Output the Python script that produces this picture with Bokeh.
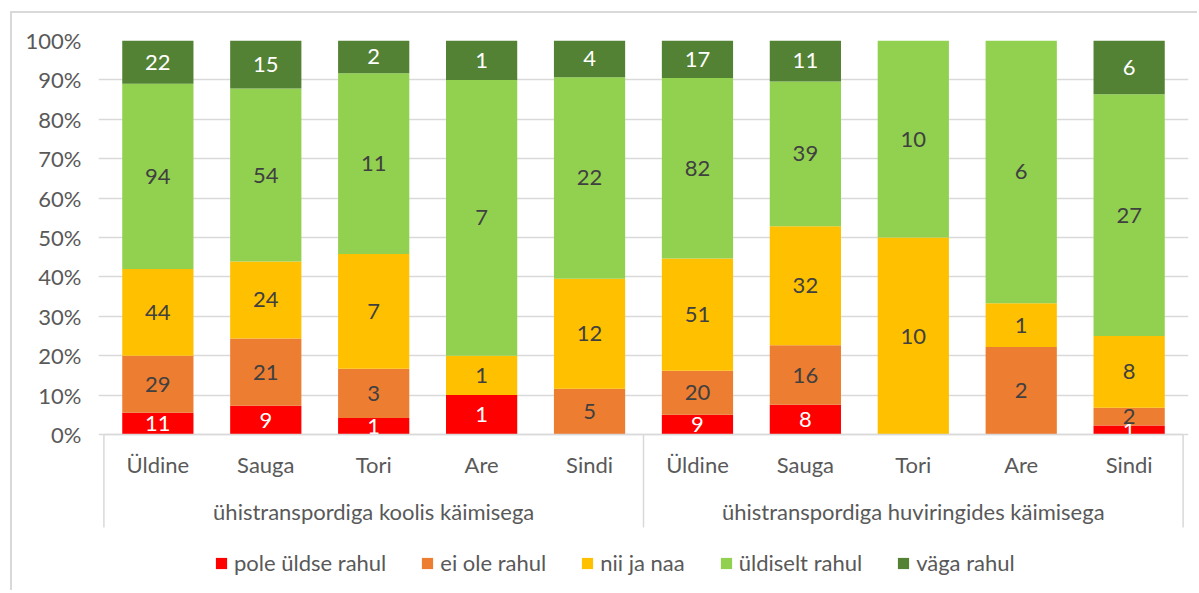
import numpy as np
from bokeh.plotting import figure
from bokeh.models import (ColumnDataSource, FactorRange, Range1d, FixedTicker,
                          NumeralTickFormatter, Legend, LegendItem)
from bokeh.core.properties import value
from bokeh.embed import file_html
from bokeh.resources import INLINE

# ---------------- data ----------------
groups = ["ühistranspordiga koolis käimisega", "ühistranspordiga huviringides käimisega"]
places = ["Üldine", "Sauga", "Tori", "Are", "Sindi"]
levels = ["pole üldse rahul", "ei ole rahul", "nii ja naa", "üldiselt rahul", "väga rahul"]
pole_uldse = [11, 9, 1, 1, 0, 9, 8, 0, 0, 1]
ei_ole = [29, 21, 3, 0, 5, 20, 16, 0, 2, 2]
nii_ja_naa = [44, 24, 7, 1, 12, 51, 32, 10, 1, 8]
uldiselt = [94, 54, 11, 7, 22, 82, 39, 10, 6, 27]
vaga = [22, 15, 2, 1, 4, 17, 11, 0, 0, 6]
y_ticks = [0.0, 0.1, 0.2, 0.3, 0.4, 0.5, 0.6, 0.7, 0.8, 0.9, 1.0]

# ---------------- styles ----------------
colors = ["#FF0000", "#ED7D31", "#FFC000", "#92D050", "#548235"]
label_colors = ["#FFFFFF", "#404040", "#404040", "#404040", "#FFFFFF"]
FONT = "Lato"
FS = "22px"
GRID = "#D9D9D9"
AXIS_TXT = "#595959"

PX_UNIT = 394.0          # pixels for 100 %
FRAME_H = 550
FRAME_W = 1090
PAD = 0.05
Y_START = 1.0 - FRAME_H / PX_UNIT

series = [pole_uldse, ei_ole, nii_ja_naa, uldiselt, vaga]
counts = np.array(series, dtype=float)
totals = counts.sum(axis=0)
shares = counts / totals

factors = [(g, c) for g in groups for c in places]
keys = ["s%d" % i for i in range(len(levels))]
src = ColumnDataSource({"x": factors, **{k: list(shares[i]) for i, k in enumerate(keys)}})

x_range = FactorRange(factors=factors, factor_padding=0, group_padding=0,
                      range_padding=PAD, range_padding_units="absolute")

chart_border = {
    "background-image": "linear-gradient(#D9D9D9, #D9D9D9), linear-gradient(#D9D9D9, #D9D9D9)",
    "background-size": "3000px 2px, 2px 3000px",
    "background-position": "10px 11px, 10px 11px",
    "background-repeat": "no-repeat",
}

p = figure(x_range=x_range, y_range=Range1d(Y_START, 1.0),
           frame_width=FRAME_W, frame_height=FRAME_H,
           min_border_left=98, min_border_right=9, min_border_top=40, min_border_bottom=0,
           x_axis_location=None, output_backend="svg", toolbar_location=None,
           outline_line_color=None, background_fill_color="white", border_fill_color=None,
           styles=chart_border)

renderers = p.vbar_stack(keys, x="x", width=0.66, fill_color=colors, line_color=None, source=src)

# grid / y axis
p.xgrid.visible = False
p.ygrid.ticker = FixedTicker(ticks=y_ticks)
p.ygrid.grid_line_color = GRID
p.ygrid.grid_line_width = 1.3
p.yaxis.ticker = FixedTicker(ticks=y_ticks)
p.yaxis.formatter = NumeralTickFormatter(format="0%")
p.yaxis.axis_line_color = None
p.yaxis.major_tick_line_color = None
p.yaxis.minor_tick_line_color = None
p.yaxis.major_tick_out = 0
p.yaxis.major_tick_in = 0
p.yaxis.major_label_standoff = 17
p.yaxis.major_label_text_font = FONT
p.yaxis.major_label_text_font_size = FS
p.yaxis.major_label_text_color = AXIS_TXT

# value labels
cum = np.cumsum(shares, axis=0)
for i in range(len(levels)):
    mid = cum[i] - shares[i] / 2
    mask = counts[i] > 0
    lsrc = ColumnDataSource({
        "x": [f for f, m in zip(factors, mask) if m],
        "y": list(mid[mask]),
        "t": [str(int(v)) for v, m in zip(counts[i], mask) if m],
    })
    p.text(x="x", y="y", text="t", source=lsrc, text_align="center", text_baseline="middle",
           text_color=label_colors[i], text_font=value(FONT), text_font_size=FS)

# category axis (drawn inside the extended frame)
p.segment(x0=[0], y0=[0], x1=[len(factors)], y1=[0], line_color=GRID, line_width=1.5)
bounds = [0] + list(np.cumsum([len(places)] * len(groups)))
sep_depth = 93.0 / PX_UNIT
p.segment(x0=bounds, y0=[0] * len(bounds), x1=bounds, y1=[-sep_depth] * len(bounds),
          line_color=GRID, line_width=1.5)

csrc = ColumnDataSource({"x": factors, "y": [0] * len(factors), "t": [c for _, c in factors]})
p.text(x="x", y="y", text="t", source=csrc, y_offset=30, text_align="center",
       text_baseline="middle", text_color=AXIS_TXT, text_font=value(FONT), text_font_size=FS)
gsrc = ColumnDataSource({"x": groups, "y": [0] * len(groups), "t": groups})
p.text(x="x", y="y", text="t", source=gsrc, y_offset=77, text_align="center",
       text_baseline="middle", text_color=AXIS_TXT, text_font=value(FONT), text_font_size=FS)

# legend
items = [LegendItem(label=lab, renderers=[r]) for lab, r in zip(levels, renderers)]
legend = Legend(items=items, orientation="horizontal", location=(116, 14),
                border_line_color=None, background_fill_alpha=0, padding=0, margin=0,
                spacing=34, glyph_width=14, glyph_height=14, label_standoff=6,
                label_text_font=FONT, label_text_font_size=FS, label_text_color=AXIS_TXT,
                label_text_baseline="middle")
p.add_layout(legend)

open("out.html", "w").write(file_html(p, INLINE))
